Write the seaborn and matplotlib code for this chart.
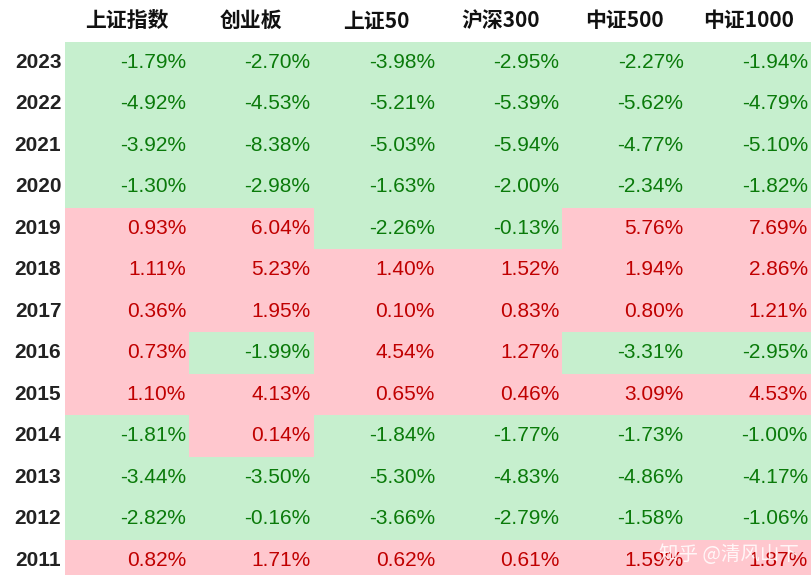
import matplotlib
matplotlib.use("Agg")
import matplotlib.pyplot as plt
import seaborn as sns
import numpy as np
import pandas as pd
from matplotlib.colors import ListedColormap

years = ["2023","2022","2021","2020","2019","2018","2017","2016","2015","2014","2013","2012","2011"]
columns = ["上证指数","创业板","上证50","沪深300","中证500","中证1000"]
sz = [-1.79,-4.92,-3.92,-1.30,0.93,1.11,0.36,0.73,1.10,-1.81,-3.44,-2.82,0.82]
cyb = [-2.70,-4.53,-8.38,-2.98,6.04,5.23,1.95,-1.99,4.13,0.14,-3.50,-0.16,1.71]
sz50 = [-3.98,-5.21,-5.03,-1.63,-2.26,1.40,0.10,4.54,0.65,-1.84,-5.30,-3.66,0.62]
hs300 = [-2.95,-5.39,-5.94,-2.00,-0.13,1.52,0.83,1.27,0.46,-1.77,-4.83,-2.79,0.61]
zz500 = [-2.27,-5.62,-4.77,-2.34,5.76,1.94,0.80,-3.31,3.09,-1.73,-4.86,-1.58,1.59]
zz1000 = [-1.94,-4.79,-5.10,-1.82,7.69,2.86,1.21,-2.95,4.53,-1.00,-4.17,-1.06,1.87]

df = pd.DataFrame(dict(zip(columns,[sz,cyb,sz50,hs300,zz500,zz1000])), index=years)
sign = (df > 0).astype(int)

plt.rcParams['font.family'] = ['Liberation Sans', 'Noto Sans CJK SC', 'DejaVu Sans']
fig = plt.figure(figsize=(8.11,5.75), dpi=100)
ax = fig.add_axes([65/811, -6/575, 746/811, 539.5/575])
sns.heatmap(sign, cmap=ListedColormap(["#c6efce","#ffc7ce"]), cbar=False, ax=ax,
            vmin=0, vmax=1, linewidths=0)
ax.set_xticks([]); ax.set_yticks([])
ax.set_xlabel(""); ax.set_ylabel("")
for i, y in enumerate(years):
    ax.text(-0.03, i+0.5, y, ha="right", va="center", fontsize=15, fontweight="bold", color="#222222")
    for j, c in enumerate(columns):
        v = df.loc[y, c]
        ax.text(j+0.975, i+0.5, f"{v:.2f}%", ha="right", va="center", fontsize=15,
                color="#c00000" if v > 0 else "#0a7a0a")
for j, c in enumerate(columns):
    ax.text(j+0.5, -0.5, c, ha="center", va="center", fontsize=15, fontweight="bold", color="#111111",
            family=['Noto Sans CJK SC', 'DejaVu Sans'])
fig.text(0.985, 0.035, "知乎 @清风山下", ha="right", va="center", fontsize=14, color="white", alpha=0.85,
         family=['Noto Sans CJK SC', 'DejaVu Sans'])
fig.savefig("out.png", dpi=100)
